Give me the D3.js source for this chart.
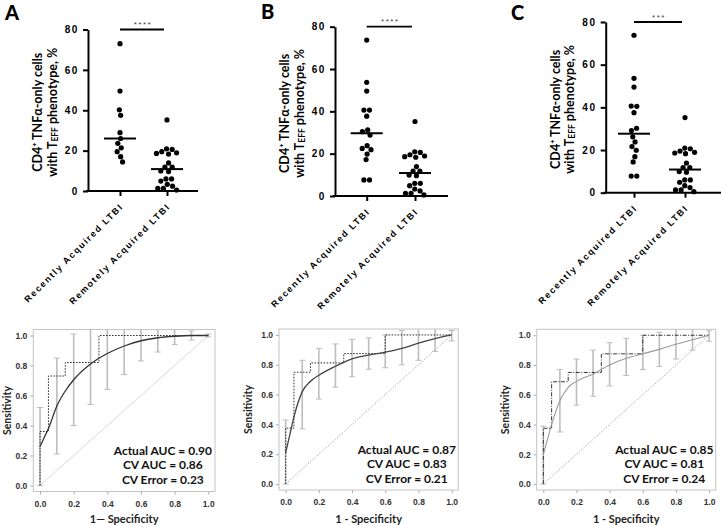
<!DOCTYPE html>
<html><head><meta charset="utf-8">
<script src="https://cdnjs.cloudflare.com/ajax/libs/d3/7.8.5/d3.min.js"></script>
<style>
html,body{margin:0;padding:0;background:#fff;}
svg{display:block;}
.ax text{font-family:"Liberation Sans",Arial,sans-serif;}
</style></head>
<body>
<svg id="chart" width="721" height="525"></svg>
<script>
// ---------------- DATA ----------------
const panelLetters = ["A", "B", "C"];
const categories = ["Recently Acquired LTBI", "Remotely Acquired LTBI"];
const yTickValues = [0, 20, 40, 60, 80];
const recentA = [73, 49.5, 40.2, 37.5, 28.9, 26, 23.6, 21.4, 19.5, 17, 14.4];
const recentB = [73.7, 53.7, 49.6, 40.6, 40.6, 37.7, 31.2, 30.4, 28.8, 23.8, 22.5, 21.9, 19.8, 17.2, 7.6, 7.6];
const recentC = [73.8, 53.6, 49.5, 40.6, 40.5, 37.5, 30.2, 29.1, 26.2, 23.8, 21.6, 19.9, 16.9, 14.4, 7.8, 7.8];
const remote = [35.2, 20.9, 20.6, 19.5, 18.9, 18.6, 18.3, 13.9, 11.8, 11.8, 9.9, 9.6, 6, 6, 4.9, 3.3, 2.4, 1.3, 1.3, 0.5];
const significance = ["****", "****", "***"];
const yTitle1 = "CD4\u207A TNF\u03B1-only cells";

const rocTicks = [0, 0.2, 0.4, 0.6, 0.8, 1.0];
const xLabels = ["1\u2014 Specificity", "1 - Specificity", "1 - Specificity"];
const aucActual = [0.90, 0.87, 0.85];
const aucCV = [0.86, 0.83, 0.81];
const cvError = [0.23, 0.21, 0.24];

// smoothed ROC curves
const smoothFpr = [0, 0.025, 0.05, 0.1, 0.15, 0.2, 0.3, 0.4, 0.5, 0.6, 0.7, 0.8, 0.9, 1.0];
const smoothTprA = [0.26, 0.32, 0.38, 0.53, 0.63, 0.705, 0.81, 0.88, 0.93, 0.965, 0.985, 0.995, 1.0, 1.0];
const smoothTprB = [0.21, 0.33, 0.45, 0.62, 0.69, 0.73, 0.79, 0.84, 0.865, 0.885, 0.91, 0.945, 0.975, 1.0];
const smoothTprC = [0.20, 0.30, 0.40, 0.56, 0.65, 0.69, 0.74, 0.80, 0.845, 0.875, 0.905, 0.94, 0.97, 1.0];

// empirical (step) ROC curves
const stepFprA = [0, 0, 0.05, 0.15, 0.35, 1.0];
const stepTprA = [0, 0.36, 0.73, 0.82, 1.0, 1.0];
const stepFprB = [0, 0, 0.05, 0.15, 0.35, 0.6, 1.0];
const stepTprB = [0, 0.375, 0.75, 0.8125, 0.875, 1.0, 1.0];
const stepFprC = [0, 0, 0.05, 0.15, 0.35, 0.6, 1.0];
const stepTprC = [0, 0.375, 0.6875, 0.75, 0.875, 1.0, 1.0];

// cross-validation error bars
const barFpr = [0, 0.1, 0.2, 0.3, 0.4, 0.5, 0.6, 0.7, 0.8, 0.9, 1.0];
const barLowA = [0, 0.21, 0.40, 0.54, 0.64, 0.74, 0.83, 0.89, 0.94, 0.97, 0.99];
const barHighA = [0.52, 0.85, 1.01, 1.08, 1.12, 1.12, 1.10, 1.08, 1.05, 1.03, 1.01];
const barLowB = [0, 0.37, 0.57, 0.65, 0.72, 0.77, 0.78, 0.80, 0.83, 0.89, 0.96];
const barHighB = [0.43, 0.83, 0.91, 0.94, 0.97, 0.98, 1.0, 1.03, 1.06, 1.06, 1.03];
const barLowC = [0, 0.35, 0.53, 0.59, 0.66, 0.73, 0.77, 0.79, 0.84, 0.90, 0.96];
const barHighC = [0.39, 0.77, 0.84, 0.90, 0.95, 0.98, 1.0, 1.02, 1.05, 1.05, 1.03];

// ---------------- LAYOUT ----------------
const scatterLayout = [
  {ax: 88, y0: 191, y80: 29.5, t1: 120, t2: 167, end: 198, lx: 5, ly: 20},
  {ax: 335, y0: 196, y80: 26.7, t1: 366.7, t2: 415, end: 448, lx: 261, ly: 19},
  {ax: 605.7, y0: 192.7, y80: 22, t1: 634, t2: 685, end: 721, lx: 511, ly: 20}
];
const rocLayout = [
  {l: 33.3, r: 215, t: 329.5, b: 491.5, sx: 7, diag: "none", smooth: "#333", sw: 1.3, step: "1.6,1.4"},
  {l: 279, r: 458.3, t: 329, b: 490, sx: 248, diag: "1.5,1.5", smooth: "#444", sw: 1.3, step: "1.6,1.4"},
  {l: 536.7, r: 715.7, t: 329.3, b: 490, sx: 505, diag: "1.5,1.5", smooth: "#9a9a9a", sw: 1.1, step: "4,1.5,1,1.5"}
];

const svg = d3.select("#chart");
const SANS = "'Liberation Sans', Arial, sans-serif";
const HUM = "Lato, 'Open Sans', sans-serif";

const recents = [recentA, recentB, recentC];
const smooths = [smoothTprA, smoothTprB, smoothTprC];
const stepsF = [stepFprA, stepFprB, stepFprC];
const stepsT = [stepTprA, stepTprB, stepTprC];
const lows = [barLowA, barLowB, barLowC];
const highs = [barHighA, barHighB, barHighC];

// collision-based beeswarm, then centre each vertically-connected cluster
function swarm(values, y, D) {
  const pts = values.map(v => ({v, py: y(v), x: 0})).sort((a, b) => b.v - a.v);
  const placed = [];
  let toggle = 1;
  pts.forEach(p => {
    const near = placed.filter(q => Math.abs(q.py - p.py) < D);
    const cands = [0];
    near.forEach(q => {
      const dx = Math.sqrt(D * D - (q.py - p.py) ** 2);
      cands.push(q.x + dx, q.x - dx);
    });
    const ok = cands.filter(cx => near.every(q => (cx - q.x) ** 2 + (q.py - p.py) ** 2 >= D * D - 1e-6));
    ok.sort((a, b) => Math.abs(a) - Math.abs(b) || (toggle * (b - a)));
    p.x = ok[0];
    if (p.x !== 0) toggle = -toggle;
    placed.push(p);
  });
  // centre clusters
  const byY = placed.slice().sort((a, b) => a.py - b.py);
  let cluster = [byY[0]];
  const finish = () => {
    const m = d3.mean(cluster, d => d.x);
    cluster.forEach(d => d.x -= m);
  };
  for (let i = 1; i < byY.length; i++) {
    if (byY[i].py - byY[i - 1].py < D) cluster.push(byY[i]);
    else { finish(); cluster = [byY[i]]; }
  }
  finish();
  return placed;
}

scatterLayout.forEach((c, pi) => {
  const g = svg.append("g");
  const y = d3.scaleLinear().domain([0, 80]).range([c.y0, c.y80]);
  const x = d3.scalePoint().domain(categories).range([c.t1, c.t2]);

  // panel letter
  g.append("text").attr("x", c.lx).attr("y", c.ly).text(panelLetters[pi])
    .attr("font-family", HUM).attr("font-weight", 900).attr("font-size", 20).attr("fill", "#000");

  // y axis
  const ya = g.append("g").attr("class", "ax").attr("transform", `translate(${c.ax},0)`)
    .call(d3.axisLeft(y).tickValues(yTickValues).tickSize(5).tickSizeOuter(0).tickPadding(4));
  ya.select(".domain").attr("stroke", "#000").attr("stroke-width", 2);
  ya.selectAll(".tick line").attr("stroke", "#000").attr("stroke-width", 2);
  ya.selectAll(".tick text").attr("font-size", 10).attr("font-weight", "bold")
    .attr("letter-spacing", "1.6px").attr("fill", "#000");

  // x axis
  const xa = g.append("g").attr("class", "ax").attr("transform", `translate(0,${c.y0})`)
    .call(d3.axisBottom(x).tickSize(5).tickSizeOuter(0).tickFormat(""));
  xa.select(".domain").remove();
  xa.selectAll(".tick line").attr("stroke", "#000").attr("stroke-width", 2);
  g.append("line").attr("x1", c.ax - 2).attr("x2", c.end).attr("y1", c.y0).attr("y2", c.y0)
    .attr("stroke", "#000").attr("stroke-width", 2);

  // category labels
  categories.forEach(cat => {
    g.append("text").attr("transform", `translate(${x(cat) + 4},${c.y0 + 16}) rotate(-45)`)
      .attr("text-anchor", "end").attr("font-family", SANS).attr("font-weight", "bold")
      .attr("font-size", 9).attr("letter-spacing", "1.6px").attr("fill", "#000").text(cat);
  });

  // y title
  const tx = c.ax - 50.5, tx2 = c.ax - 36.5, ty = (c.y0 + c.y80) / 2 + 2;
  g.append("text").attr("transform", `translate(${tx},${ty}) rotate(-90)`)
    .attr("text-anchor", "middle").attr("dominant-baseline", "central")
    .attr("font-family", HUM).attr("font-weight", "bold").attr("font-size", 12.5).text(yTitle1);
  const t2 = g.append("text").attr("transform", `translate(${tx2},${ty}) rotate(-90)`)
    .attr("text-anchor", "middle").attr("dominant-baseline", "central")
    .attr("font-family", HUM).attr("font-weight", "bold").attr("font-size", 12.5);
  t2.append("tspan").text("with T");
  t2.append("tspan").attr("font-size", 8.5).attr("dy", 3).text("EFF");
  t2.append("tspan").attr("dy", -3).text(" phenotype, %");

  // dots
  const groups = [recents[pi], remote];
  groups.forEach((vals, gi) => {
    const cx = x(categories[gi]);
    const pts = swarm(vals, y, 5.6);
    g.selectAll(null).data(pts).enter().append("circle")
      .attr("cx", d => cx + d.x).attr("cy", d => d.py).attr("r", 2.6).attr("fill", "#000");
    const med = d3.median(vals);
    g.append("line").attr("x1", cx - 16).attr("x2", cx + 16).attr("y1", y(med)).attr("y2", y(med))
      .attr("stroke", "#000").attr("stroke-width", 2);
  });

  // significance bar
  g.append("line").attr("x1", x(categories[0])).attr("x2", x(categories[1]) - 3)
    .attr("y1", y(80)).attr("y2", y(80)).attr("stroke", "#000").attr("stroke-width", 1.8);
  g.append("text").attr("x", (x(categories[0]) + x(categories[1]) - 3) / 2 + 1).attr("y", y(80) - 2.5)
    .attr("text-anchor", "middle").attr("font-family", SANS).attr("font-size", 8)
    .attr("letter-spacing", "1.5px").attr("fill", "#444").text(significance[pi]);
});

// ---------------- ROC PANELS ----------------
rocLayout.forEach((c, pi) => {
  const g = svg.append("g");
  const x = d3.scaleLinear().domain([-0.04, 1.04]).range([c.l, c.r]);
  const y = d3.scaleLinear().domain([-0.04, 1.04]).range([c.b, c.t]);
  const clipId = "clip" + pi;
  g.append("clipPath").attr("id", clipId).append("rect")
    .attr("x", c.l).attr("y", c.t).attr("width", c.r - c.l).attr("height", c.b - c.t);

  // axes ticks
  const xa = g.append("g").attr("class", "ax").attr("transform", `translate(0,${c.b})`)
    .call(d3.axisBottom(x).tickValues(rocTicks).tickSize(3).tickPadding(6).tickFormat(d3.format(".1f")));
  xa.select(".domain").remove();
  xa.selectAll(".tick line").attr("stroke", "#aaa");
  xa.selectAll(".tick text").attr("font-size", 8.5).attr("font-weight", "bold").attr("fill", "#333");
  const ya = g.append("g").attr("class", "ax").attr("transform", `translate(${c.l},0)`)
    .call(d3.axisLeft(y).tickValues(rocTicks).tickSize(3).tickPadding(3).tickFormat(d3.format(".1f")));
  ya.select(".domain").remove();
  ya.selectAll(".tick line").attr("stroke", "#aaa");
  ya.selectAll(".tick text").attr("font-size", 8.5).attr("font-weight", "bold").attr("fill", "#333");

  const inner = g.append("g").attr("clip-path", `url(#${clipId})`);
  // diagonal
  inner.append("line").attr("x1", x(0)).attr("y1", y(0)).attr("x2", x(1)).attr("y2", y(1))
    .attr("stroke", c.diag === "none" ? "#cfcfcf" : "#9a9a9a").attr("stroke-width", 0.8)
    .attr("stroke-dasharray", c.diag === "none" ? null : c.diag);

  // error bars
  const bars = barFpr.map((f, i) => ({f, lo: lows[pi][i], hi: highs[pi][i]}));
  const eb = inner.selectAll(null).data(bars).enter().append("g").attr("stroke", "#bdbdbd");
  eb.append("line").attr("x1", d => x(d.f)).attr("x2", d => x(d.f))
    .attr("y1", d => y(d.lo)).attr("y2", d => y(d.hi)).attr("stroke-width", 1.6);
  eb.append("line").attr("x1", d => x(d.f) - 3).attr("x2", d => x(d.f) + 3)
    .attr("y1", d => y(d.lo)).attr("y2", d => y(d.lo)).attr("stroke-width", 1);
  eb.append("line").attr("x1", d => x(d.f) - 3).attr("x2", d => x(d.f) + 3)
    .attr("y1", d => y(d.hi)).attr("y2", d => y(d.hi)).attr("stroke-width", 1);

  // step ROC
  const stepPts = stepsF[pi].map((f, i) => [f, stepsT[pi][i]]);
  inner.append("path").attr("d", d3.line().x(d => x(d[0])).y(d => y(d[1])).curve(d3.curveStepAfter)(stepPts))
    .attr("fill", "none").attr("stroke", "#333").attr("stroke-width", 1).attr("stroke-dasharray", c.step);

  // smooth ROC
  const smPts = smoothFpr.map((f, i) => [f, smooths[pi][i]]);
  inner.append("path").attr("d", d3.line().x(d => x(d[0])).y(d => y(d[1])).curve(d3.curveMonotoneX)(smPts))
    .attr("fill", "none").attr("stroke", c.smooth).attr("stroke-width", c.sw);

  // box
  g.append("rect").attr("x", c.l).attr("y", c.t).attr("width", c.r - c.l).attr("height", c.b - c.t)
    .attr("fill", "none").attr("stroke", "#c4c4c4").attr("stroke-width", 1);

  // labels
  g.append("text").attr("transform", `translate(${c.sx},${(c.t + c.b) / 2}) rotate(-90)`)
    .attr("text-anchor", "middle").attr("dominant-baseline", "central")
    .attr("font-family", HUM).attr("font-weight", "bold").attr("font-size", 10.5).attr("fill", "#222").text("Sensitivity");
  g.append("text").attr("x", (c.l + c.r) / 2).attr("y", 518).attr("text-anchor", "middle")
    .attr("dominant-baseline", "central").attr("font-family", HUM).attr("font-weight", "bold")
    .attr("font-size", 11).attr("fill", "#222").text(xLabels[pi]);

  const lines = [
    `Actual AUC = ${aucActual[pi].toFixed(2)}`,
    `CV AUC = ${aucCV[pi].toFixed(2)}`,
    `CV Error = ${cvError[pi].toFixed(2)}`
  ];
  lines.forEach((t, k) => {
    g.append("text").attr("x", x(0.73)).attr("y", y(0.235 - k * 0.098))
      .attr("text-anchor", "middle").attr("dominant-baseline", "central")
      .attr("font-family", HUM).attr("font-weight", "bold").attr("font-size", 12).attr("fill", "#111").text(t);
  });
});
</script>
</body></html>
